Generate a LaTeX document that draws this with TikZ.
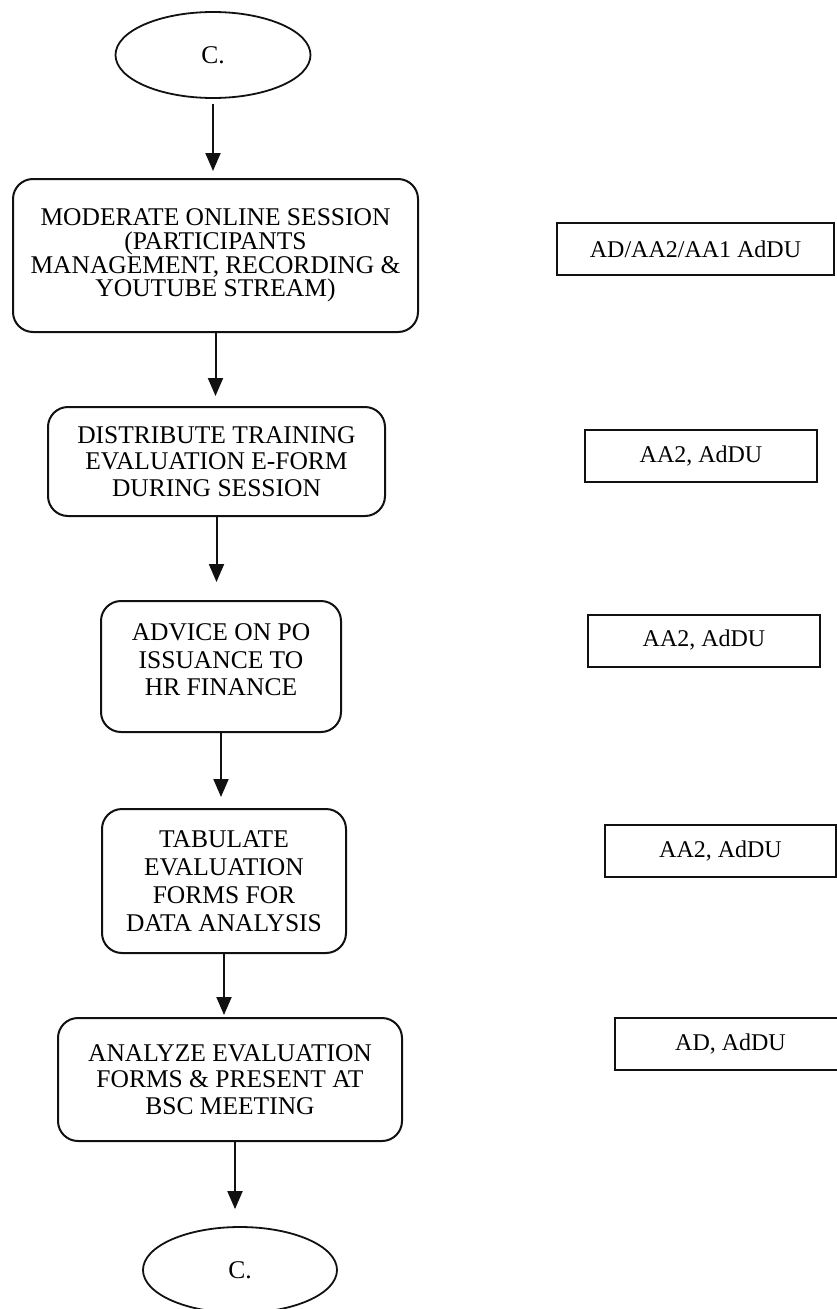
\documentclass[tikz,border=0pt]{standalone}
\usepackage{fontspec}
\setmainfont{Liberation Serif}
\usepackage{tikz}
\usetikzlibrary{arrows.meta,positioning,shapes.geometric}
\definecolor{ink}{HTML}{111111}
\tikzset{
  >={Triangle[length=18pt,width=15pt]},
  terminal/.style={ellipse,draw=ink,line width=1.8pt,minimum width=195pt,minimum height=86pt,inner sep=0pt,
    font=\fontsize{25.5}{26.5}\selectfont},
  stepbox/.style={draw=ink,rounded corners=20pt,line width=2pt,align=center,inner sep=0pt,
    font=\fontsize{25.5}{26.5}\selectfont},
  rolebox/.style={draw=ink,line width=2pt,inner sep=0pt,minimum height=52pt,
    font=\fontsize{24}{26}\selectfont},
  flow/.style={->,line width=2pt,color=ink},
}
\begin{document}
\begin{tikzpicture}[x=1pt,y=1pt]
  \useasboundingbox (0,0) rectangle (836,-1309);

  % main column
  \node[terminal] (start) at (213,-55) {C.};
  \node[stepbox,minimum width=405pt,minimum height=153pt,font=\fontsize{25.5}{23.7}\selectfont]
    (moderate) at (215.5,-255.5)
    {MODERATE ONLINE SESSION\\(PARTICIPANTS\\MANAGEMENT, RECORDING \&\\YOUTUBE STREAM)};
  \node[stepbox,minimum width=337pt,minimum height=109pt] (distribute) at (216.5,-461.5)
    {DISTRIBUTE TRAINING\\EVALUATION E-FORM\\DURING SESSION};
  \node[stepbox,minimum width=240pt,minimum height=131pt,font=\fontsize{25.5}{27.5}\selectfont]
    (advice) at (221,-666.5)
    {ADVICE ON PO\\ISSUANCE TO\\HR FINANCE\\[-22pt]\strut};
  \node[stepbox,minimum width=244pt,minimum height=144pt,font=\fontsize{25.5}{28}\selectfont]
    (tabulate) at (224,-881)
    {TABULATE\\EVALUATION\\FORMS FOR\\DATA ANALYSIS};
  \node[stepbox,minimum width=344pt,minimum height=123pt] (analyze) at (230,-1079.5)
    {ANALYZE EVALUATION\\FORMS \& PRESENT AT\\BSC MEETING};
  \node[terminal,minimum width=194pt] (stop) at (240,-1270) {C.};

  % who does it
  \node[rolebox,minimum width=277pt] (roleA) at (695.5,-249) {AD/AA2/AA1 AdDU};
  \node[rolebox,minimum width=232pt] (roleB) at (701,-456) {AA2, AdDU};
  \node[rolebox,minimum width=232pt] (roleC) at (704,-640.5) {AA2, AdDU};
  \node[rolebox,minimum width=231pt] (roleD) at (720.5,-851) {AA2, AdDU};
  \node[rolebox,minimum width=231pt] (roleE) at (730.5,-1044) {AD, AdDU};

  % arrows
  \draw[flow,shorten <=5pt,shorten >=7pt] (start.south) -- (start.south |- moderate.north);
  \draw[flow,shorten >=10pt] (moderate.south) -- (moderate.south |- distribute.north);
  \draw[flow,shorten >=18pt] (distribute.south) -- (distribute.south |- advice.north);
  \draw[flow,shorten >=11pt] (advice.south) -- (advice.south |- tabulate.north);
  \draw[flow,shorten >=2pt] (tabulate.south) -- (tabulate.south |- analyze.north);
  \draw[flow,shorten >=17pt] ([xshift=5pt]analyze.south) -- ([xshift=5pt]analyze.south |- stop.north);
\end{tikzpicture}
\end{document}
